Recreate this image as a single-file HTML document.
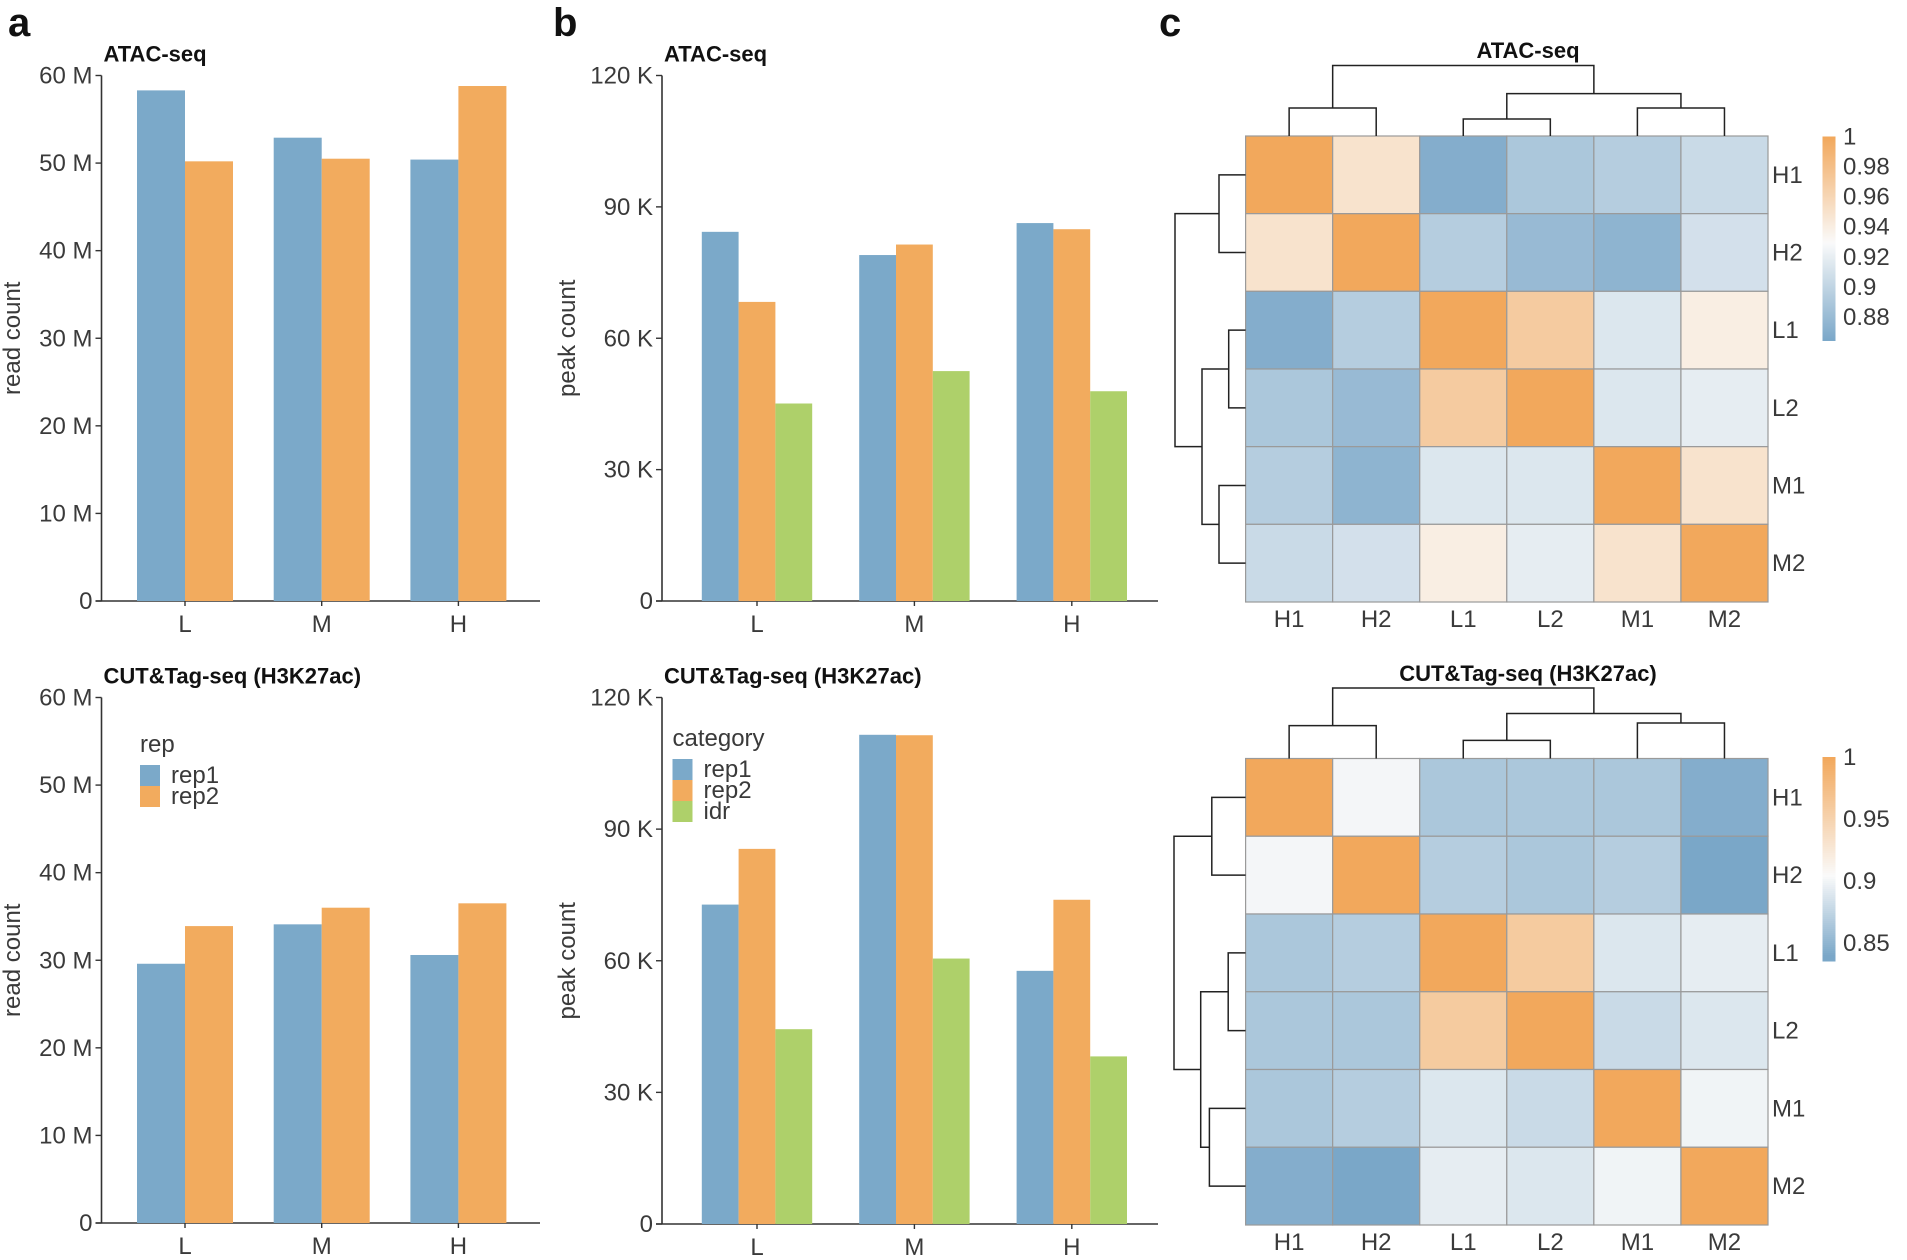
<!DOCTYPE html>
<html><head><meta charset="utf-8"><style>
html,body{margin:0;padding:0;background:#fff}
svg{display:block}
text{font-family:"Liberation Sans",Arial,sans-serif;fill:#3a3a3a}
.b{font-weight:bold;fill:#111}
</style></head><body>
<svg id="fig" width="1907" height="1260" viewBox="0 0 1907 1260" xmlns="http://www.w3.org/2000/svg"></svg>
<script>
const groups = ["L","M","H"];
const readTicks = [0,10,20,30,40,50,60];
const peakTicks = [0,30,60,90,120];
const atacReadRep1 = [58.3,52.9,50.4];
const atacReadRep2 = [50.2,50.5,58.8];
const cutReadRep1 = [29.6,34.1,30.6];
const cutReadRep2 = [33.9,36.0,36.5];
const atacPeakRep1 = [84.3,79.0,86.3];
const atacPeakRep2 = [68.3,81.4,84.9];
const atacPeakIdr = [45.1,52.5,47.9];
const cutPeakRep1 = [72.8,111.5,57.7];
const cutPeakRep2 = [85.5,111.4,73.9];
const cutPeakIdr = [44.4,60.5,38.2];
const samples = ["H1","H2","L1","L2","M1","M2"];
const atacCorr = [
 [1,0.95,0.87,0.89,0.895,0.905],
 [0.95,1,0.895,0.88,0.875,0.91],
 [0.87,0.895,1,0.97,0.915,0.94],
 [0.89,0.88,0.97,1,0.915,0.92],
 [0.895,0.875,0.915,0.915,1,0.95],
 [0.905,0.91,0.94,0.92,0.95,1]];
const cutCorr = [
 [1,0.902,0.865,0.865,0.865,0.845],
 [0.902,1,0.87,0.865,0.87,0.84],
 [0.865,0.87,1,0.96,0.89,0.895],
 [0.865,0.865,0.96,1,0.88,0.89],
 [0.865,0.87,0.89,0.88,1,0.90],
 [0.845,0.84,0.895,0.89,0.90,1]];
const atacCbTicks = [1,0.98,0.96,0.94,0.92,0.9,0.88];
const cutCbTicks = [1,0.95,0.9,0.85];

const NS="http://www.w3.org/2000/svg";
const svg=document.getElementById('fig');
const BLUE="#7ba9c9",ORANGE="#f2ab5e",GREEN="#aed06a";
function el(tag,attrs,parent){const e=document.createElementNS(NS,tag);for(const k in attrs)e.setAttribute(k,attrs[k]);(parent||svg).appendChild(e);return e;}
function txt(x,y,s,attrs,parent){const t=el('text',Object.assign({x:x,y:y},attrs||{}),parent);t.textContent=s;return t;}

function barChart(o){
  const g=el('g',{});
  
  
  const yScale=v=>o.y0-(v/o.max)*(o.y0-o.yTop);
  const ya=el('line',{x1:o.ax,y1:o.yTop,x2:o.ax,y2:o.y0,stroke:'#333','stroke-width':1.6},g);
  
  const xa=el('line',{x1:o.ax-6,y1:o.y0,x2:o.axEnd,y2:o.y0,stroke:'#333','stroke-width':1.6},g);
  
  o.ticks.forEach(t=>{
    const y=yScale(t);
    el('line',{x1:o.ax-6,y1:y,x2:o.ax,y2:y,stroke:'#333','stroke-width':1.4},g);
    const tl=txt(o.ax-9,y+8,t===0?'0':t+' '+o.unit,{'text-anchor':'end','font-size':24},g);
    
  });
  const n=o.series.length;
  groups.forEach((c,i)=>{
    const cx=o.c0+i*o.step;
    el('line',{x1:cx,y1:o.y0,x2:cx,y2:o.y0+5,stroke:'#333','stroke-width':1.4},g);
    const xl=txt(cx,o.y0+31,c,{'text-anchor':'middle','font-size':24},g);
    
    o.series.forEach((s,j)=>{
      const x=cx-n*o.bw/2+j*o.bw, y=yScale(s.vals[i]);
      const r=el('rect',{x:x,y:y,width:o.bw,height:o.y0-y,fill:s.color},g);
      
      
    });
  });
  const yt=txt(0,0,o.ytitle,{'text-anchor':'middle','font-size':24,transform:`translate(${o.ytx},${(o.yTop+o.y0)/2}) rotate(-90)`},g);
  
  const tt=txt(o.ax+2,o.yTop-14,o.title,{'font-size':22,'class':'b'},g);
  
  if(o.legend){
    const lg=el('g',{},g);
    
    txt(o.legend.x,o.legend.y,o.legend.title,{'font-size':24},lg);
    o.series.forEach((s,j)=>{
      const yy=o.legend.y+13+j*21;
      const sw=el('rect',{x:o.legend.x,y:yy,width:20,height:21,fill:s.color},lg);
      
      const lt=txt(o.legend.x+31,yy+18,s.key,{'font-size':24},lg);
      
    });
  }
}

barChart({name:'atac-read-chart',ax:101.5,axEnd:540,yTop:75.5,y0:601,max:60,ticks:readTicks,unit:'M',c0:185,step:136.7,bw:48,ytx:20,ytitle:'read count',title:'ATAC-seq',
  series:[{key:'rep1',vals:atacReadRep1,color:BLUE},{key:'rep2',vals:atacReadRep2,color:ORANGE}]});
barChart({name:'cut-read-chart',ax:101.5,axEnd:540,yTop:697.5,y0:1223,max:60,ticks:readTicks,unit:'M',c0:185,step:136.7,bw:48,ytx:20,ytitle:'read count',title:'CUT&Tag-seq (H3K27ac)',
  series:[{key:'rep1',vals:cutReadRep1,color:BLUE},{key:'rep2',vals:cutReadRep2,color:ORANGE}],legend:{x:140,y:752,title:'rep'}});
barChart({name:'atac-peak-chart',ax:662,axEnd:1158,yTop:75.5,y0:601,max:120,ticks:peakTicks,unit:'K',c0:757,step:157.4,bw:36.8,ytx:575,ytitle:'peak count',title:'ATAC-seq',
  series:[{key:'rep1',vals:atacPeakRep1,color:BLUE},{key:'rep2',vals:atacPeakRep2,color:ORANGE},{key:'idr',vals:atacPeakIdr,color:GREEN}]});
barChart({name:'cut-peak-chart',ax:662,axEnd:1158,yTop:697.5,y0:1224,max:120,ticks:peakTicks,unit:'K',c0:757,step:157.4,bw:36.8,ytx:575,ytitle:'peak count',title:'CUT&Tag-seq (H3K27ac)',
  series:[{key:'rep1',vals:cutPeakRep1,color:BLUE},{key:'rep2',vals:cutPeakRep2,color:ORANGE},{key:'idr',vals:cutPeakIdr,color:GREEN}],legend:{x:672.5,y:746,title:'category'}});

function lerp(a,b,t){return a.map((v,i)=>Math.round(v+(b[i]-v)*t));}
function colorFor(v,min,mid,max){
  const lo=[122,167,200],w=[250,250,250],hi=[242,168,92];
  let c;
  if(v<mid)c=lerp(lo,w,Math.max(0,(v-min)/(mid-min)));
  else c=lerp(w,hi,Math.min(1,(v-mid)/(max-mid)));
  return `rgb(${c[0]},${c[1]},${c[2]})`;
}

function heatmap(o){
  const g=el('g',{});
  
  
  const L=1245.6,R=1768,cw=(R-L)/6,ch=(o.bottom-o.top)/6;
  o.data.forEach((row,i)=>row.forEach((v,j)=>{
    const r=el('rect',{x:L+j*cw,y:o.top+i*ch,width:cw,height:ch,fill:colorFor(v,o.min,o.mid,1),stroke:'#9a9a9a','stroke-width':1.2},g);
    
    
  }));
  samples.forEach((s,i)=>{
    const rl=txt(R+4,o.top+(i+0.5)*ch+8,s,{'font-size':24},g);
    
    const cl=txt(L+(i+0.5)*cw,o.bottom+25,s,{'text-anchor':'middle','font-size':24},g);
    
  });
  const dg=el('g',{stroke:'#222','stroke-width':1.5,fill:'none'},g);
  
  const cx=i=>L+(i+0.5)*cw, cy=i=>o.top+(i+0.5)*ch;
  const d=o.dend;
  const T=o.top;
  const path=(s)=>el('path',{d:s},dg);
  const hx=(cx(0)+cx(1))/2, lx=(cx(2)+cx(3))/2, mx=(cx(4)+cx(5))/2, lmx=(lx+mx)/2;
  path(`M${cx(0)},${T}V${d.h}H${cx(1)}V${T}`);
  path(`M${cx(2)},${T}V${d.l}H${cx(3)}V${T}`);
  path(`M${cx(4)},${T}V${d.m}H${cx(5)}V${T}`);
  path(`M${lx},${d.l}V${d.lm}H${mx}V${d.m}`);
  path(`M${hx},${d.h}V${d.root}H${lmx}V${d.lm}`);
  const rg=el('g',{stroke:'#222','stroke-width':1.5,fill:'none'},g);
  
  const p2=(s)=>el('path',{d:s},rg);
  const hy=(cy(0)+cy(1))/2, ly=(cy(2)+cy(3))/2, my=(cy(4)+cy(5))/2, lmy=(ly+my)/2;
  p2(`M${L},${cy(0)}H${d.rh}V${cy(1)}H${L}`);
  p2(`M${L},${cy(2)}H${d.rl}V${cy(3)}H${L}`);
  p2(`M${L},${cy(4)}H${d.rm}V${cy(5)}H${L}`);
  p2(`M${d.rl},${ly}H${d.rlm}V${my}H${d.rm}`);
  p2(`M${d.rh},${hy}H${d.rroot}V${lmy}H${d.rlm}`);
  const cb=el('g',{},g);
  
  const cbTop=o.cb1, perUnit=o.cbPer, cbBot=o.cbBot;
  for(let y=cbTop;y<cbBot;y+=2){
    const v=1-(y-cbTop)/perUnit;
    el('rect',{x:1822.5,y:y,width:13,height:2.5,fill:colorFor(v,o.min,o.mid,1)},cb);
  }
  o.cbTicks.forEach(t=>{
    const y=cbTop+(1-t)*perUnit;
    const l=txt(1843,y+8,String(t),{'font-size':24},cb);
    
  });
  const tt=txt(1528,o.titleY,o.title,{'text-anchor':'middle','font-size':22,'class':'b'},g);
  
}

heatmap({name:'atac-heatmap',data:atacCorr,top:136,bottom:602,min:0.865,mid:0.93,title:'ATAC-seq',titleY:58,
  dend:{root:65.5,h:108,l:119,m:108,lm:93.6,rroot:1175,rh:1219,rl:1228.7,rm:1219,rlm:1202},
  cb1:136.5,cbPer:1504,cbBot:339,cbTicks:atacCbTicks});
heatmap({name:'cut-heatmap',data:cutCorr,top:758.5,bottom:1225,min:0.84,mid:0.905,title:'CUT&Tag-seq (H3K27ac)',titleY:681,
  dend:{root:688,h:725.6,l:740.4,m:723,lm:713.5,rroot:1174,rh:1211.8,rl:1228.2,rm:1209.4,rlm:1200.7},
  cb1:757,cbPer:1240,cbBot:961,cbTicks:cutCbTicks});

[['a',8,'panel-label-a'],['b',553,'panel-label-b'],['c',1159,'panel-label-c']].forEach(p=>{
  const t=txt(p[1],36,p[0],{'font-size':40,'class':'b'});
  
  
});
</script>
</body></html>
